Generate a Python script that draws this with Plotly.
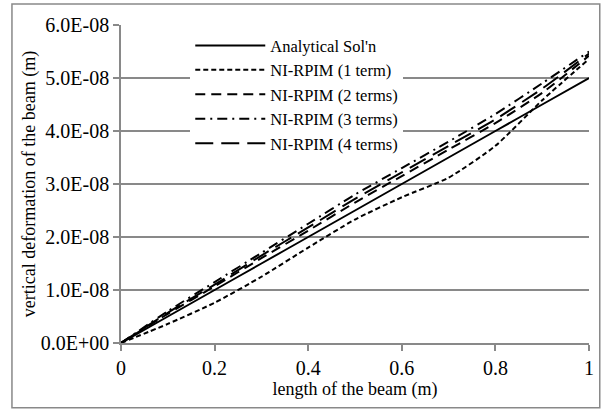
import plotly.graph_objects as go

x_vals = [0, 0.1, 0.2, 0.3, 0.4, 0.5, 0.6, 0.7, 0.8, 0.9, 1.0]
analytical = [0, 0.5e-8, 1.0e-8, 1.5e-8, 2.0e-8, 2.5e-8, 3.0e-8, 3.5e-8, 4.0e-8, 4.5e-8, 5.0e-8]
rpim_1 = [0, 0.36e-8, 0.76e-8, 1.25e-8, 1.8e-8, 2.33e-8, 2.75e-8, 3.12e-8, 3.72e-8, 4.58e-8, 5.36e-8]
rpim_2 = [0, 0.55e-8, 1.07e-8, 1.6e-8, 2.12e-8, 2.65e-8, 3.15e-8, 3.65e-8, 4.15e-8, 4.72e-8, 5.42e-8]
rpim_3 = [0, 0.6e-8, 1.15e-8, 1.7e-8, 2.25e-8, 2.8e-8, 3.3e-8, 3.8e-8, 4.32e-8, 4.9e-8, 5.5e-8]
rpim_4 = [0, 0.57e-8, 1.1e-8, 1.65e-8, 2.18e-8, 2.72e-8, 3.22e-8, 3.72e-8, 4.22e-8, 4.8e-8, 5.46e-8]

series_names = ["Analytical Sol'n", "NI-RPIM (1 term)", "NI-RPIM (2 terms)",
                "NI-RPIM (3 terms)", "NI-RPIM (4 terms)"]
series_data = [analytical, rpim_1, rpim_2, rpim_3, rpim_4]
dashes = ["solid", "5px,3px", "10px,6px", "10px,5px,2px,5px", "18px,8px"]

y_tickvals = [0, 1e-8, 2e-8, 3e-8, 4e-8, 5e-8, 6e-8]
y_ticktext = ["0.0E+00", "1.0E-08", "2.0E-08", "3.0E-08", "4.0E-08", "5.0E-08", "6.0E-08"]
x_tickvals = [0, 0.2, 0.4, 0.6, 0.8, 1.0]
x_ticktext = ["0", "0.2", "0.4", "0.6", "0.8", "1"]

FONT = "Liberation Serif"
GRAY = "#898989"
FS = 18
TICK_FS = 20

fig = go.Figure()
for name, data, dash in zip(series_names, series_data, dashes):
    fig.add_trace(go.Scatter(
        x=x_vals, y=data, mode="lines", name=name,
        line=dict(color="black", width=2, dash=dash, shape="spline", smoothing=0.6),
    ))

fig.update_layout(
    width=606, height=410,
    margin=dict(l=121, r=13, t=25, b=67),
    paper_bgcolor="white", plot_bgcolor="white",
    font=dict(family=FONT, size=FS, color="black"),
    showlegend=True,
    legend=dict(
        x=0.148, y=0.99, xanchor="left", yanchor="top",
        bgcolor="white", borderwidth=0,
        font=dict(family=FONT, size=16.5, color="black"),
        itemwidth=70, tracegroupgap=0,
    ),
    xaxis=dict(
        range=[0, 1], tickvals=x_tickvals, ticktext=x_ticktext,
        showgrid=False, zeroline=False,
        showline=True, linecolor=GRAY, linewidth=1.5,
        ticks="outside", ticklen=6, tickcolor=GRAY, tickwidth=1.5,
        tickfont=dict(family=FONT, size=TICK_FS),
        title=dict(text="length of the beam (m)", font=dict(family=FONT, size=FS), standoff=5),
    ),
    yaxis=dict(
        range=[0, 6e-8], tickvals=y_tickvals, ticktext=y_ticktext,
        showgrid=True, gridcolor=GRAY, gridwidth=1.5, zeroline=False,
        showline=True, linecolor=GRAY, linewidth=1.5,
        ticks="outside", ticklen=6, tickcolor=GRAY, tickwidth=1.5,
        tickfont=dict(family=FONT, size=TICK_FS),
        title=dict(text="vertical deformation of the beam (m)", font=dict(family=FONT, size=FS), standoff=0),
    ),
    shapes=[dict(
        type="rect", xref="paper", yref="paper",
        x0=-0.233, x1=1.023, y0=-0.204, y1=1.066,
        line=dict(color=GRAY, width=1.5), fillcolor="rgba(0,0,0,0)", layer="below",
    )],
)

fig.write_html("out.html")
